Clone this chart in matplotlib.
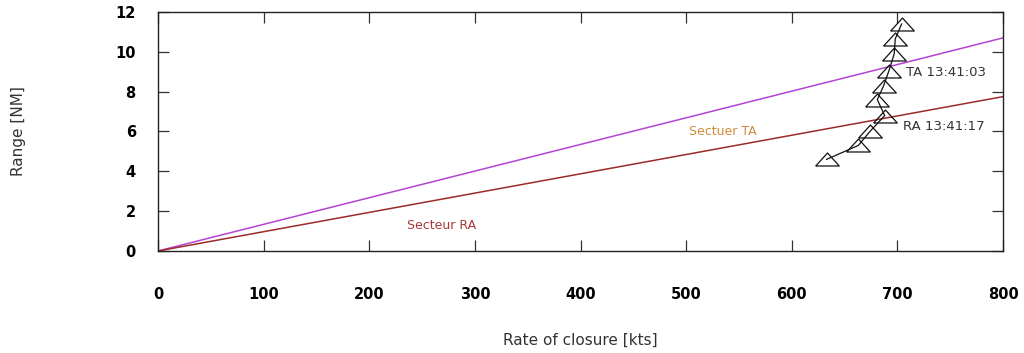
#!/usr/bin/env python3
"""Range vs rate of closure with TA/RA sectors."""

import matplotlib

matplotlib.use("Agg")
import matplotlib.pyplot as plt

INK = "#111111"
TA_COLOR = "#b444d4"
RA_COLOR = "#9c2a2a"
TA_TEXT = "#d08a3c"
RA_TEXT = "#a83838"

# sector boundaries (closure rate kts -> range NM)
sector_x = [0, 800]
ta_range = [0, 10.7]
ra_range = [0, 7.75]

# intruder track
track_rate = [633, 663, 674, 688, 681, 687, 692, 697, 698, 704]
track_range = [4.6, 5.3, 6.0, 6.8, 7.6, 8.3, 9.05, 9.9, 10.65, 11.4]

x_ticks = [0, 100, 200, 300, 400, 500, 600, 700, 800]
y_ticks = [0, 2, 4, 6, 8, 10, 12]

TRI = [(-1.0, -0.55), (1.0, -0.55), (0.0, 0.55), (-1.0, -0.55)]

fig = plt.figure(figsize=(10.24, 3.53), dpi=100)
ax = fig.add_axes([0.1543, 0.289, 0.9795 - 0.1543, 0.966 - 0.289])

ax.plot(sector_x, ta_range, color=TA_COLOR, linewidth=1.1)
ax.plot(sector_x, ra_range, color=RA_COLOR, linewidth=1.1)
ax.plot(track_rate, track_range, color=INK, linewidth=0.9,
        marker=TRI, markersize=17, markerfacecolor="none",
        markeredgecolor=INK, markeredgewidth=0.9)

ax.text(708, 8.95, "TA 13:41:03", fontsize=9.5, color="#333333", ha="left", va="center",
        family="DejaVu Sans")
ax.text(705, 6.25, "RA 13:41:17", fontsize=9.5, color="#333333", ha="left", va="center",
        family="DejaVu Sans")
ax.text(535, 6.0, "Sectuer TA", fontsize=9, color=TA_TEXT, ha="center", va="center",
        family="DejaVu Sans")
ax.text(268, 1.3, "Secteur RA", fontsize=9, color=RA_TEXT, ha="center", va="center",
        family="DejaVu Sans")

ax.set_xlim(0, 800)
ax.set_ylim(0, 12)
ax.set_xticks(x_ticks)
ax.set_yticks(y_ticks)
ax.tick_params(direction="in", length=8, width=0.9, color="#333333",
               top=True, right=True, labelsize=10.5)
ax.tick_params(axis="x", pad=26)
ax.tick_params(axis="y", pad=16)
for lab in ax.get_xticklabels() + ax.get_yticklabels():
    lab.set_fontfamily("Liberation Sans Narrow")
    lab.set_fontweight("bold")
for side in ax.spines.values():
    side.set_color("#222222")
    side.set_linewidth(1.0)

ax.set_xlabel("Rate of closure [kts]", fontsize=11, color="#333333", labelpad=22,
              family="DejaVu Sans")
ax.set_ylabel("Range [NM]", fontsize=11, color="#333333", labelpad=64,
              family="DejaVu Sans")

fig.savefig("out.png", dpi=100)
